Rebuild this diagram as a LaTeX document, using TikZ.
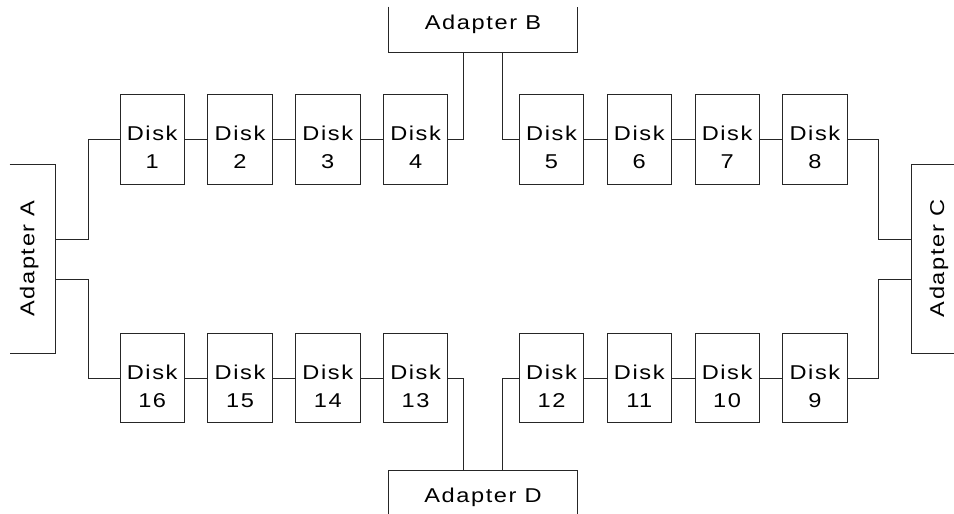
\documentclass[tikz,border=0pt]{standalone}
\usepackage{fontspec}
\setmainfont[LetterSpace=8,FakeStretch=1.18]{Liberation Sans}
\begin{document}
\begin{tikzpicture}[x=1pt,y=-1pt,
  line width=0.8pt, draw=black!85,
  disk/.style={draw, rectangle, minimum width=64.3pt, minimum height=89.3pt, inner sep=0pt},
  disktext/.style={align=center, inner sep=0pt, font=\fontsize{20}{28}\selectfont},
  adapterbox/.style={rectangle, draw=none, inner sep=0pt},
  adaptertext/.style={inner sep=0pt, font=\fontsize{20}{24}\selectfont},
  wire/.style={draw=black!85, line width=0.8pt}]
\useasboundingbox (0,0) rectangle (954,514);
% disks
\foreach \n/\x/\y in {1/152.2/139.3, 2/240/139.3, 3/327.8/139.3, 4/415.6/139.3,
                      5/551.5/139.3, 6/639.3/139.3, 7/727.1/139.3, 8/814.9/139.3,
                      16/152.2/378, 15/240/378, 14/327.8/378, 13/415.6/378,
                      12/551.5/378, 11/639.3/378, 10/727.1/378, 9/814.9/378}{
  \node[disk] (d\n) at (\x,\y) {};
  \node[disktext] at ([yshift=-8.2pt]d\n.center) {Disk\\\n};
}
% adapters (open on the side at the picture edge)
\node[adapterbox, minimum width=45pt, minimum height=187.7pt] (A) at (32.5,258.8) {};
\node[adapterbox, minimum width=42.3pt, minimum height=187.7pt] (C) at (932.85,258.8) {};
\node[adapterbox, minimum width=188pt, minimum height=45pt] (B) at (483,29.5) {};
\node[adapterbox, minimum width=188pt, minimum height=43.3pt] (D) at (483,492.35) {};
\draw (A.north west) -- (A.north east) -- (A.south east) -- (A.south west);
\draw (C.north east) -- (C.north west) -- (C.south west) -- (C.south east);
\draw (B.north west) -- (B.south west) -- (B.south east) -- (B.north east);
\draw (D.south west) -- (D.north west) -- (D.north east) -- (D.south east);
\node[adaptertext, rotate=90] at (29.2,258.5) {Adapter A};
\node[adaptertext, rotate=90] at (939,258.5) {Adapter C};
\node[adaptertext] at (483,24) {Adapter B};
\node[adaptertext] at (483,497.5) {Adapter D};
% chains
\draw[wire] (d1) -- (d2) -- (d3) -- (d4);
\draw[wire] (d5) -- (d6) -- (d7) -- (d8);
\draw[wire] (d16) -- (d15) -- (d14) -- (d13);
\draw[wire] (d12) -- (d11) -- (d10) -- (d9);
% adapter links
\draw[wire] ([yshift=19.8pt]A.east) -- ++(32.7,0) |- (d1.west);
\draw[wire] ([yshift=-20.2pt]A.east) -- ++(32.7,0) |- (d16.west);
\draw[wire] ([yshift=19.8pt]C.west) -- ++(-32.7,0) |- (d8.east);
\draw[wire] ([yshift=-20.2pt]C.west) -- ++(-32.7,0) |- (d9.east);
\draw[wire] (d4.east) -| ([xshift=-19.3pt]B.south);
\draw[wire] (d5.west) -| ([xshift=19.5pt]B.south);
\draw[wire] (d13.east) -| ([xshift=-19.3pt]D.north);
\draw[wire] (d12.west) -| ([xshift=19.5pt]D.north);
\end{tikzpicture}
\end{document}
